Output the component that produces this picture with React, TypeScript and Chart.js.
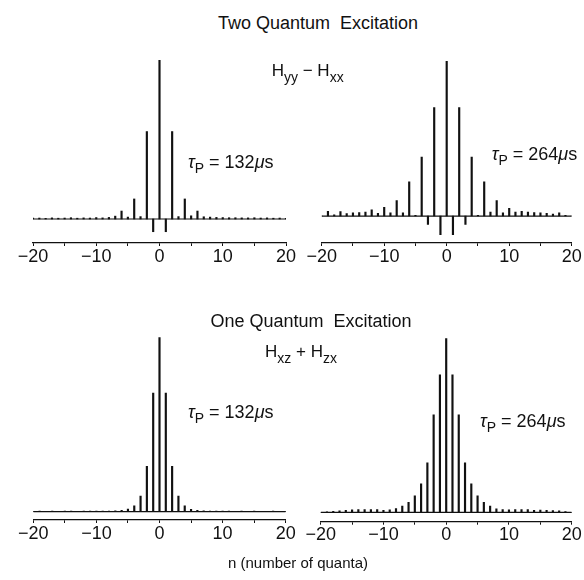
import React, { useEffect, useRef } from "react";
import { Chart, registerables } from "chart.js";

Chart.register(...registerables);

// ---- data ----
const quantumNumbers = [
  -20, -19, -18, -17, -16, -15, -14, -13, -12, -11, -10, -9, -8, -7, -6, -5, -4, -3, -2, -1,
  0, 1, 2, 3, 4, 5, 6, 7, 8, 9, 10, 11, 12, 13, 14, 15, 16, 17, 18, 19, 20,
];

// Two quantum excitation, tau_P = 132 us
const twoQuantum132 = [
  0.005, 0.006, 0.004, 0.007, 0.005, 0.006, 0.008, 0.005, 0.007, 0.006, 0.009, 0.007, 0.010, 0.018, 0.05, 0.012, 0.126, 0.015, 0.55, -0.08,
  1.0, -0.08, 0.55, 0.015, 0.126, 0.02, 0.05, 0.014, 0.012, 0.010, 0.009, 0.008, 0.008, 0.007, 0.007, 0.008, 0.006, 0.007, 0.005, 0.006, 0.004,
];

// Two quantum excitation, tau_P = 264 us
const twoQuantum264 = [
  0.0, 0.03, 0.008, 0.028, 0.015, 0.02, 0.022, 0.025, 0.04, 0.018, 0.056, 0.02, 0.10, 0.02, 0.22, 0.005, 0.38, -0.054, 0.70, -0.12,
  1.0, -0.12, 0.70, -0.054, 0.38, 0.005, 0.22, 0.025, 0.10, 0.02, 0.05, 0.025, 0.03, 0.025, 0.022, 0.02, 0.018, 0.012, 0.02, 0.005, 0.0,
];

// One quantum excitation, tau_P = 132 us
const oneQuantum132 = [
  0.002, 0.003, 0.002, 0.003, 0.002, 0.003, 0.003, 0.002, 0.003, 0.003, 0.004, 0.003, 0.004, 0.005, 0.008, 0.015, 0.033, 0.09, 0.26, 0.68,
  1.0, 0.68, 0.26, 0.09, 0.033, 0.014, 0.008, 0.005, 0.004, 0.003, 0.003, 0.003, 0.002, 0.003, 0.002, 0.003, 0.002, 0.002, 0.003, 0.002, 0.002,
];

// One quantum excitation, tau_P = 264 us
const oneQuantum264 = [
  0.0, 0.003, 0.005, 0.008, 0.012, 0.014, 0.016, 0.015, 0.016, 0.015, 0.012, 0.014, 0.022, 0.036, 0.057, 0.095, 0.163, 0.285, 0.56, 0.79,
  1.0, 0.79, 0.56, 0.285, 0.163, 0.095, 0.057, 0.036, 0.02, 0.015, 0.014, 0.015, 0.016, 0.016, 0.012, 0.013, 0.012, 0.01, 0.008, 0.004, 0.0,
];

const xTickValues = [-20, -10, 0, 10, 20];
const xTickLabels = ["\u221220", "\u221210", "0", "10", "20"];
const xMin = -20;
const xMax = 20;
const xMinorStep = 5;

const FONT = '"Liberation Sans", Arial, Helvetica, sans-serif';
const INK = "#111";

type Geom = {
  left: number;
  top: number;
  width: number;
  height: number;
  padding: { left: number; right: number; top: number; bottom: number };
  yMin: number;
};

function Panel({ values, geom }: { values: number[]; geom: Geom }) {
  const ref = useRef<HTMLCanvasElement | null>(null);
  useEffect(() => {
    if (!ref.current) return;
    const chart = new Chart(ref.current, {
      type: "bar",
      data: {
        datasets: [
          {
            type: "line",
            data: [
              { x: xMin, y: 0 },
              { x: xMax, y: 0 },
            ],
            borderColor: INK,
            borderWidth: 1.2,
            pointRadius: 0,
            fill: false,
          } as any,
          {
            type: "bar",
            data: quantumNumbers.map((n, i) => ({ x: n, y: values[i] })),
            backgroundColor: INK,
            borderWidth: 0,
            barThickness: 1.5,
          } as any,
        ],
      },
      options: {
        animation: false,
        responsive: false,
        maintainAspectRatio: false,
        layout: { padding: geom.padding },
        plugins: { legend: { display: false }, tooltip: { enabled: false } },
        scales: {
          x: {
            type: "linear",
            min: xMin,
            max: xMax,
            offset: false,
            grid: {
              display: true,
              drawOnChartArea: false,
              drawTicks: true,
              tickLength: 3,
              color: INK,
              lineWidth: 1,
              offset: false,
            },
            border: { display: true, color: INK, width: 1.3 },
            ticks: {
              stepSize: xMinorStep,
              autoSkip: false,
              maxRotation: 0,
              minRotation: 0,
              padding: 0,
              color: INK,
              font: { family: FONT, size: 18 },
              callback: (v: any) => {
                const idx = xTickValues.indexOf(Number(v));
                return idx >= 0 ? xTickLabels[idx] : "";
              },
            },
            afterFit: (s: any) => {
              s.height = 30;
            },
          },
          y: { display: false, min: geom.yMin, max: 1 },
        },
      } as any,
    });
    return () => chart.destroy();
  }, []);
  return (
    <canvas
      ref={ref}
      width={geom.width}
      height={geom.height}
      style={{ position: "absolute", left: geom.left, top: geom.top, width: geom.width, height: geom.height }}
    />
  );
}

const ASC = 0.8465; // baseline offset for line-height 1

function Label({ x, baseline, size, children, center }: any) {
  const style: React.CSSProperties = {
    position: "absolute",
    top: baseline - ASC * size,
    fontSize: size,
    lineHeight: 1,
    fontFamily: FONT,
    color: INK,
    whiteSpace: "nowrap",
    zIndex: 2,
  };
  if (center) {
    style.left = x - 200;
    style.width = 400;
    style.textAlign = "center";
  } else {
    style.left = x;
  }
  return <div style={style}>{children}</div>;
}

const sub = (t: string, size = 14, dy = 6) => (
  <span style={{ fontSize: size, position: "relative", top: dy }}>{t}</span>
);

function Tau({ x, baseline, value }: any) {
  return (
    <Label x={x} baseline={baseline} size={18}>
      <span style={{ fontStyle: "italic" }}>τ</span>
      {sub("P", 14, 5)}
      {" = "}
      {value}
      <span style={{ fontStyle: "italic" }}>μ</span>s
    </Label>
  );
}

const geomTL: Geom = { left: 0, top: 40, width: 300, height: 240, padding: { left: 33, right: 14, top: 20, bottom: 7 }, yMin: -0.151 };
const geomTR: Geom = { left: 300, top: 40, width: 284, height: 240, padding: { left: 21.7, right: 12.3, top: 21, bottom: 7 }, yMin: -0.174 };
const geomBL: Geom = { left: 0, top: 320, width: 300, height: 240, padding: { left: 33.3, right: 14.3, top: 17.3, bottom: 10 }, yMin: -0.0476 };
const geomBR: Geom = { left: 300, top: 320, width: 284, height: 240, padding: { left: 20.7, right: 12.3, top: 18.3, bottom: 8.3 }, yMin: -0.054 };

export default function App() {
  return (
    <div style={{ position: "absolute", left: 0, top: 0, width: 584, height: 580, background: "#fff", overflow: "hidden" }}>
      <Panel values={twoQuantum132} geom={geomTL} />
      <Panel values={twoQuantum264} geom={geomTR} />
      <Panel values={oneQuantum132} geom={geomBL} />
      <Panel values={oneQuantum264} geom={geomBR} />

      <Label x={318} baseline={29} size={18} center>
        Two Quantum&nbsp; Excitation
      </Label>
      <Label x={271.7} baseline={76.7} size={17}>
        H{sub("yy")}
        {" \u2212 "}H{sub("xx")}
      </Label>
      <Tau x={188} baseline={168} value="132" />
      <Tau x={491.7} baseline={160} value="264" />

      <Label x={311} baseline={327} size={18} center>
        One Quantum&nbsp; Excitation
      </Label>
      <Label x={265} baseline={357} size={17}>
        H{sub("xz")}
        {" + "}H{sub("zx")}
      </Label>
      <Tau x={188} baseline={418} value="132" />
      <Tau x={480} baseline={427} value="264" />

      <Label x={298} baseline={568} size={15} center>
        n (number of quanta)
      </Label>
    </div>
  );
}
